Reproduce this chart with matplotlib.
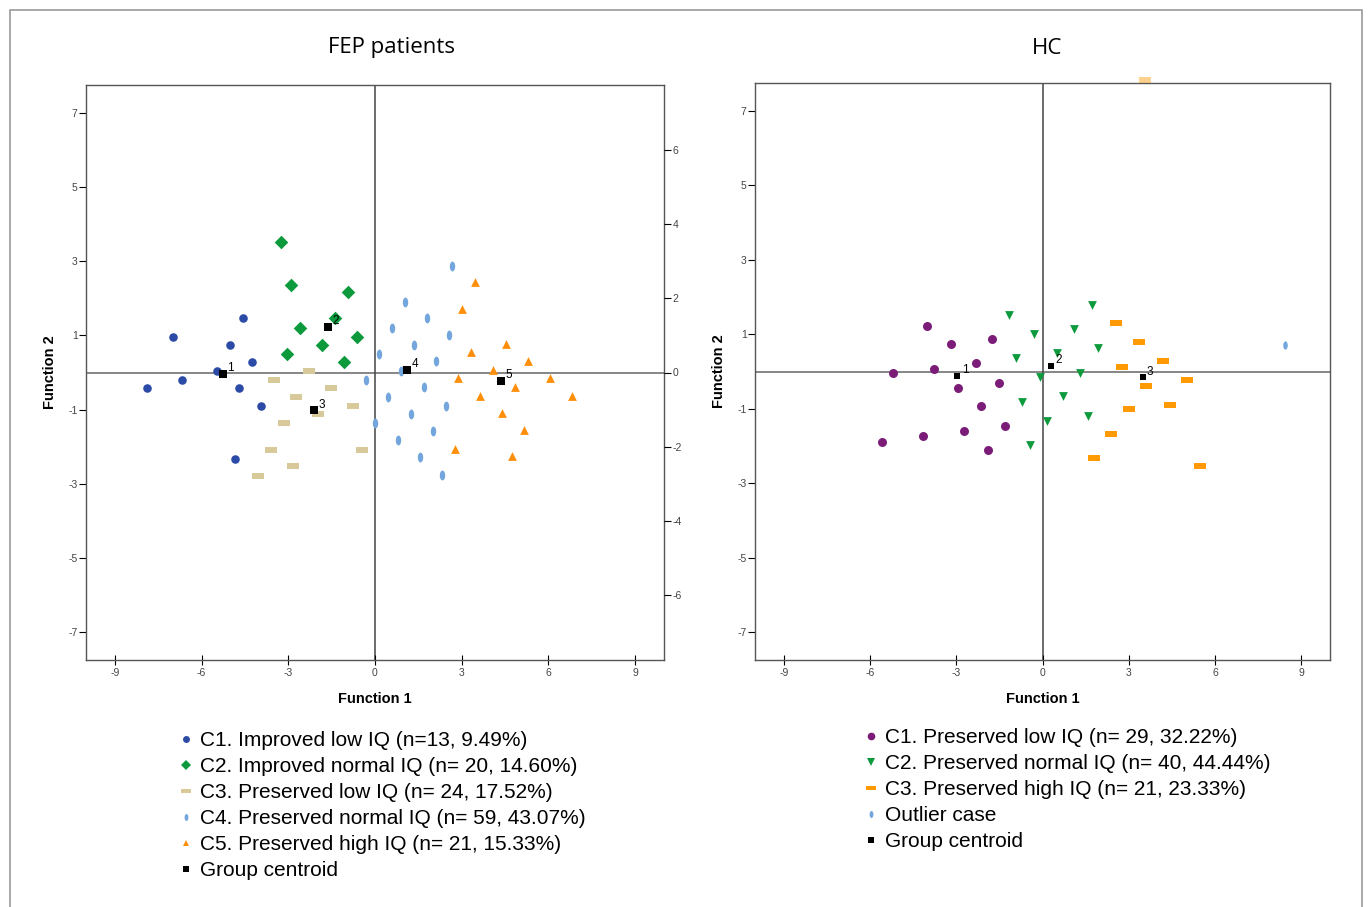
import numpy as np
import matplotlib
matplotlib.use("Agg")
import matplotlib.pyplot as plt
from matplotlib.lines import Line2D
from matplotlib.patches import Rectangle
from matplotlib.path import Path

plt.rcParams['font.family'] = ['Liberation Sans', 'DejaVu Sans']
plt.rcParams['axes.unicode_minus'] = False

# ---------------- FEP patients data ----------------
fep_c1_x = [-7.89, -6.99, -6.68, -5.02, -4.57, -5.47, -4.26, -4.71, -3.94, -4.84]
fep_c1_y = [-0.43, 0.97, -0.19, 0.75, 1.46, 0.03, 0.27, -0.43, -0.89, -2.32]
fep_c2_x = [-3.25, -2.91, -0.93, -2.60, -1.38, -1.83, -0.62, -3.04, -1.07]
fep_c2_y = [3.53, 2.37, 2.16, 1.21, 1.46, 0.73, 0.97, 0.51, 0.27]
fep_c3_x = [-2.28, -3.49, -1.52, -2.73, -0.76, -1.97, -3.15, -0.45, -3.60, -2.84, -4.05]
fep_c3_y = [0.03, -0.19, -0.43, -0.67, -0.89, -1.13, -1.37, -2.08, -2.08, -2.53, -2.78]
fep_c4_x = [2.66, 1.04, 1.80, 0.59, 2.56, 1.35, 0.14, 2.11, 0.90, -0.31, 1.70, 0.45,
            2.46, 1.25, 0.00, 2.01, 0.80, 1.56, 2.32]
fep_c4_y = [2.86, 1.91, 1.46, 1.21, 1.00, 0.75, 0.51, 0.30, 0.05, -0.19, -0.40, -0.65,
            -0.89, -1.13, -1.35, -1.59, -1.83, -2.29, -2.75]
fep_c5_x = [3.46, 3.01, 4.53, 3.32, 5.29, 4.08, 2.87, 6.06, 4.84, 3.63, 6.82, 4.39, 5.16, 2.77, 4.74]
fep_c5_y = [2.43, 1.72, 0.78, 0.54, 0.32, 0.08, -0.16, -0.16, -0.38, -0.62, -0.62, -1.08, -1.56, -2.05, -2.26]
fep_cent_x = [-5.26, -1.63, -2.11, 1.11, 4.36]
fep_cent_y = [-0.03, 1.24, -1.02, 0.08, -0.22]
fep_cent_lbl = ["1", "2", "3", "4", "5"]

fep_labels = ["C1. Improved low IQ (n=13, 9.49%)",
              "C2. Improved normal IQ (n= 20, 14.60%)",
              "C3. Preserved low IQ (n= 24, 17.52%)",
              "C4. Preserved normal IQ (n= 59, 43.07%)",
              "C5. Preserved high IQ (n= 21, 15.33%)",
              "Group centroid"]

# ---------------- HC data ----------------
hc_c1_x = [-4.01, -3.17, -1.74, -2.33, -3.76, -5.19, -2.93, -1.50, -2.13, -1.29, -2.72, -4.15, -5.57, -1.88]
hc_c1_y = [1.21, 0.73, 0.86, 0.22, 0.08, -0.05, -0.43, -0.30, -0.94, -1.46, -1.59, -1.73, -1.89, -2.10]
hc_c2_x = [-1.15, -0.31, -0.91, -0.10, -0.70, 0.14, -0.45, 1.71, 1.11, 1.92, 0.52, 1.32, 0.73, 1.57]
hc_c2_y = [1.51, 1.00, 0.35, -0.16, -0.81, -1.32, -1.97, 1.78, 1.13, 0.62, 0.49, -0.03, -0.67, -1.19]
hc_c3_x = [2.54, 3.34, 4.18, 2.75, 5.02, 3.59, 4.43, 3.00, 2.37, 1.78, 5.47]
hc_c3_y = [1.29, 0.78, 0.27, 0.13, -0.24, -0.38, -0.89, -1.02, -1.67, -2.32, -2.53]
hc_c3_edge_x = [3.55]
hc_c3_edge_y = [7.82]
hc_out_x = [8.43]
hc_out_y = [0.70]
hc_cent_x = [-2.96, 0.31, 3.48]
hc_cent_y = [-0.11, 0.16, -0.16]
hc_cent_lbl = ["1", "2", "3"]

hc_labels = ["C1. Preserved low IQ (n= 29, 32.22%)",
             "C2. Preserved normal IQ (n= 40, 44.44%)",
             "C3. Preserved high IQ (n= 21, 23.33%)",
             "Outlier case",
             "Group centroid"]

# ---------------- styles ----------------
t = np.linspace(0, 2 * np.pi, 40)
ELL = Path(np.column_stack([0.55 * np.cos(t), np.sin(t)]), closed=True)
RECT = Path([(-1, -0.42), (1, -0.42), (1, 0.42), (-1, 0.42), (-1, -0.42)], closed=True)

BLUE = "#2b4ba6"
GREEN = "#0c9a3c"
TAN = "#d8c99b"
LBLUE = "#72a6dd"
ORANGE = "#ff8f0a"
PURPLE = "#7b1d78"
ORANGE2 = "#ff9a05"

fig = plt.figure(figsize=(13.7, 9.07), dpi=100)
W, H = 1370, 907
fig.patches.append(Rectangle((10 / W, -0.01), (1362 - 10) / W, 1.01 - 10 / H,
                             transform=fig.transFigure, fill=False, edgecolor="#9a9a9a", lw=1.2))


def mkax(l, r, t_, b):
    return fig.add_axes([l / W, 1 - b / H, (r - l) / W, (b - t_) / H])


def style(ax):
    ax.set_xlim(-10, 10)
    ax.set_ylim(-7.75, 7.75)
    ax.set_xticks([-9, -6, -3, 0, 3, 6, 9])
    ax.set_yticks([7, 5, 3, 1, -1, -3, -5, -7])
    ax.tick_params(axis='y', direction='out', length=5, width=0.8, labelsize=7.5,
                   labelcolor="#444444", pad=1)
    ax.tick_params(axis='x', direction='inout', length=7, width=0.8, labelsize=7.5,
                   labelcolor="#444444", pad=2)
    for s in ax.spines.values():
        s.set_color("#555555")
        s.set_linewidth(1.0)
    ax.axhline(0, color="#666666", lw=1.1, zorder=1)
    ax.axvline(0, color="#444444", lw=1.1, zorder=1)
    ax.set_xlabel("Function 1", fontsize=10.5, fontweight="bold", labelpad=10)
    ax.set_ylabel("Function 2", fontsize=10.5, fontweight="bold", labelpad=8)


# ---------- left: FEP ----------
ax1 = mkax(86, 664, 85, 660)
style(ax1)
ax1.scatter(fep_c1_x, fep_c1_y, marker='o', s=38, color=BLUE, lw=0, zorder=3)
ax1.scatter(fep_c2_x, fep_c2_y, marker='D', s=48, color=GREEN, lw=0, zorder=3)
ax1.scatter(fep_c3_x, fep_c3_y, marker=RECT, s=75, color=TAN, lw=0, zorder=3)
ax1.scatter(fep_c4_x, fep_c4_y, marker=ELL, s=50, color=LBLUE, lw=0, zorder=3)
ax1.scatter(fep_c5_x, fep_c5_y, marker='^', s=40, color=ORANGE, lw=0, zorder=3)
ax1.scatter(fep_cent_x, fep_cent_y, marker='s', s=30, color="black", lw=0, zorder=4)
for x, y, lb in zip(fep_cent_x, fep_cent_y, fep_cent_lbl):
    ax1.annotate(lb, (x, y), xytext=(3, 2), textcoords="offset points", fontsize=8.5, zorder=5)
fig.text(391 / W, 1 - 48 / H, "FEP patients", fontsize=16, fontfamily="Open Sans",
         ha="center", va="center")

axr = ax1.twinx()
axr.set_ylim(-7.75, 7.75)
axr.set_yticks([6, 4, 2, 0, -2, -4, -6])
axr.tick_params(axis='y', direction='out', length=5, width=0.8, labelsize=7.5,
                labelcolor="#444444", pad=1)
for s in axr.spines.values():
    s.set_visible(False)

# ---------- right: HC ----------
ax2 = mkax(755, 1330, 83, 660)
style(ax2)
ax2.scatter(hc_c1_x, hc_c1_y, marker='o', s=42, color=PURPLE, lw=0, zorder=3)
ax2.scatter(hc_c2_x, hc_c2_y, marker='v', s=40, color=GREEN, lw=0, zorder=3)
ax2.scatter(hc_c3_x, hc_c3_y, marker=RECT, s=75, color=ORANGE2, lw=0, zorder=3)
ax2.scatter(hc_c3_edge_x, hc_c3_edge_y, marker=RECT, s=75, color=ORANGE2, alpha=0.45,
            lw=0, zorder=3, clip_on=False)
ax2.scatter(hc_out_x, hc_out_y, marker=ELL, s=35, color=LBLUE, lw=0, zorder=3)
ax2.scatter(hc_cent_x, hc_cent_y, marker='s', s=18, color="black", lw=0, zorder=4)
for x, y, lb in zip(hc_cent_x, hc_cent_y, hc_cent_lbl):
    ax2.annotate(lb, (x, y), xytext=(3, 2), textcoords="offset points", fontsize=8.5, zorder=5)
fig.text(1047 / W, 1 - 48 / H, "HC", fontsize=16, fontfamily="Open Sans",
         ha="center", va="center")

# ---------- legends ----------
def h(marker, color, ms):
    return Line2D([], [], marker=marker, color=color, ls='none', markersize=ms, markeredgewidth=0)

fep_handles = [h('o', BLUE, 5), h('D', GREEN, 5), h(RECT, TAN, 7), h(ELL, LBLUE, 5),
               h('^', ORANGE, 5), h('s', 'black', 4.5)]
hc_handles = [h('o', PURPLE, 5.5), h('v', GREEN, 5.5), h(RECT, ORANGE2, 7), h(ELL, LBLUE, 5),
              h('s', 'black', 4.5)]

leg_kw = dict(frameon=False, fontsize=15, handlelength=0.6, handletextpad=0.35,
              labelspacing=0.34, borderpad=0, borderaxespad=0, loc="upper left")
fig.legend(fep_handles, fep_labels, bbox_to_anchor=(180 / W, 1 - 731 / H), **leg_kw)
fig.legend(hc_handles, hc_labels, bbox_to_anchor=(865 / W, 1 - 728 / H), **leg_kw)

fig.savefig("out.png", dpi=100)
